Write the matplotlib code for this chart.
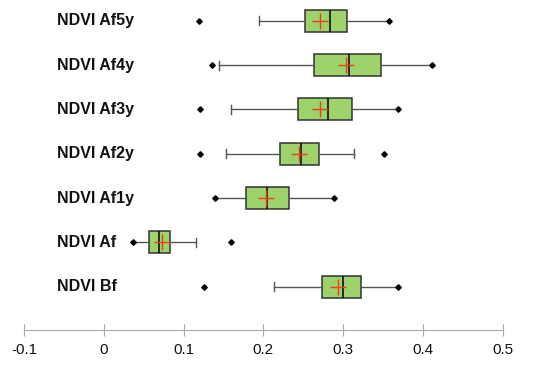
import matplotlib.pyplot as plt
import matplotlib.transforms as mtransforms

# categories from bottom to top
labels = ["NDVI Bf", "NDVI Af", "NDVI Af1y", "NDVI Af2y", "NDVI Af3y", "NDVI Af4y", "NDVI Af5y"]
whislo = [0.213, 0.036, 0.140, 0.153, 0.160, 0.145, 0.194]
q1 = [0.274, 0.057, 0.178, 0.221, 0.244, 0.264, 0.252]
med = [0.300, 0.069, 0.205, 0.247, 0.281, 0.307, 0.283]
q3 = [0.323, 0.083, 0.232, 0.270, 0.311, 0.348, 0.305]
whishi = [0.369, 0.116, 0.289, 0.314, 0.369, 0.412, 0.358]
means = [0.293, 0.073, 0.203, 0.245, 0.271, 0.303, 0.271]
outliers = [[0.125], [0.160], [], [0.121, 0.351], [0.121], [0.136], [0.119]]
# whisker ends drawn as a point instead of a cap (low, high)
end_points = [(False, True), (True, False), (True, True), (False, False),
              (False, True), (False, True), (False, True)]

plt.rcParams['font.family'] = ['Liberation Sans', 'DejaVu Sans']

fig = plt.figure(figsize=(5.5, 3.67), dpi=100)
ax = fig.add_axes([24 / 550, 37 / 367, (502.7 - 24) / 550, 1 - 37 / 367])

stats = []
for i in range(len(labels)):
    stats.append({"whislo": whislo[i], "q1": q1[i], "med": med[i], "q3": q3[i],
                  "whishi": whishi[i], "mean": means[i], "fliers": outliers[i]})

pos = list(range(len(labels)))
bp = ax.bxp(stats, positions=pos, vert=False, widths=0.5, patch_artist=True,
            showmeans=True, showfliers=False,
            boxprops=dict(facecolor="#9dd36a", edgecolor="#333333", linewidth=1.1),
            medianprops=dict(color="#111111", linewidth=1.2),
            whiskerprops=dict(color="#555555", linewidth=1.0),
            capprops=dict(color="#555555", linewidth=1.0),
            meanprops=dict(marker="+", markeredgecolor="#e8401c", markersize=11,
                           markeredgewidth=1.0))

mk = dict(marker="D", color="black", markersize=2.8, ls="none")
for i in range(len(labels)):
    lo_pt, hi_pt = end_points[i]
    if lo_pt:
        bp["caps"][2 * i].set_visible(False)
        ax.plot(whislo[i], pos[i], **mk)
    if hi_pt:
        bp["caps"][2 * i + 1].set_visible(False)
        ax.plot(whishi[i], pos[i], **mk)
    for v in outliers[i]:
        ax.plot(v, pos[i], **mk)

for i in range(len(bp["caps"])):
    bp["caps"][i].set_ydata([pos[i // 2] - 0.1, pos[i // 2] + 0.1])

trans = mtransforms.blended_transform_factory(fig.transFigure, ax.transData)
for i, lab in enumerate(labels):
    ax.text(57 / 550, pos[i], lab, transform=trans, ha="left", va="center",
            fontsize=11.5, fontweight="bold", color="#111111")

ax.set_xlim(-0.1, 0.5)
ax.set_ylim(-0.98, 6.47)
ax.set_xticks([-0.1, 0, 0.1, 0.2, 0.3, 0.4, 0.5])
ax.set_xticklabels(["-0.1", "0", "0.1", "0.2", "0.3", "0.4", "0.5"])
ax.set_yticks([])
for s in ["top", "right", "left"]:
    ax.spines[s].set_visible(False)
ax.spines["bottom"].set_color("#aaaaaa")
ax.tick_params(axis="x", direction="inout", length=8, color="#aaaaaa",
               labelsize=11, pad=5, labelcolor="#111111")

fig.savefig("out.png", dpi=100)
